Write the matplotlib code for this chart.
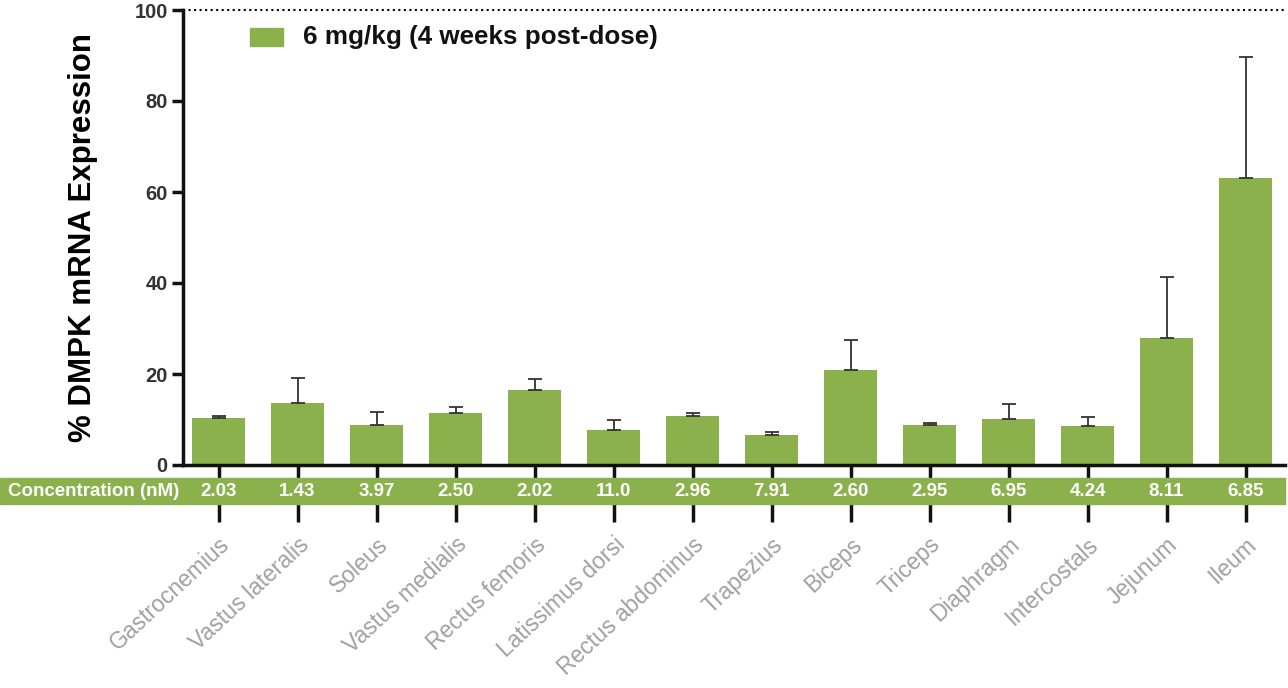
import numpy as np
import matplotlib.pyplot as plt
from matplotlib.patches import Rectangle
import matplotlib.transforms as mtransforms

plt.rcParams['font.family'] = ['Liberation Sans', 'DejaVu Sans']

# Data #
tissues = ['Gastrocnemius', 'Vastus lateralis', 'Soleus', 'Vastus medialis',
           'Rectus femoris', 'Latissimus dorsi', 'Rectus abdominus', 'Trapezius',
           'Biceps', 'Triceps', 'Diaphragm', 'Intercostals', 'Jejunum', 'Ileum']
expression = [10.3, 13.6, 8.8, 11.4, 16.5, 7.7, 10.8, 6.6, 20.9, 8.8, 10.1, 8.6, 27.9, 63.1]
err_upper = [0.5, 5.5, 2.8, 1.3, 2.4, 2.2, 0.6, 0.6, 6.6, 0.4, 3.3, 1.9, 13.4, 26.6]
concentration = ['2.03', '1.43', '3.97', '2.50', '2.02', '11.0', '2.96', '7.91',
                 '2.60', '2.95', '6.95', '4.24', '8.11', '6.85']
yticks = [0, 20, 40, 60, 80, 100]

green = '#8AB14B'

fig = plt.figure(figsize=(12.88, 6.88), dpi=100)
ax = fig.add_axes([183 / 1288, 223 / 688, 1102 / 1288, 455 / 688])

x = np.arange(len(tissues))
ax.bar(x, expression, width=0.66, color=green, zorder=2)
ax.errorbar(x, expression, yerr=[np.zeros(len(x)), err_upper], fmt='none',
            ecolor='#333333', elinewidth=1.3, capsize=5, capthick=1.3, zorder=3)

ax.set_xlim(-0.45, 13.5)
ax.set_ylim(0, 100)
ax.axhline(100, ls=':', color='k', lw=1.5, clip_on=False)

for s in ['top', 'right']:
    ax.spines[s].set_visible(False)
for s in ['left', 'bottom']:
    ax.spines[s].set_linewidth(2.5)
    ax.spines[s].set_color('#111111')

ax.set_yticks(yticks)
ax.set_yticklabels([str(v) for v in yticks], fontsize=14.5, fontweight='bold', color='#333333')
ax.tick_params(axis='y', length=8, width=2.5, color='#111111', pad=3)
ax.set_xticks(x)
ax.set_xticklabels(tissues, rotation=43, ha='right', rotation_mode='anchor',
                   fontsize=16.5, color='#a0a0a0')
ax.tick_params(axis='x', length=41, width=2.5, color='#111111', pad=8)

ax.set_ylabel('% DMPK mRNA Expression', fontsize=22.5, fontweight='bold')
ax.yaxis.set_label_coords(-0.077, 0.5)

# Legend #
fig.patches.append(Rectangle((250 / 1288, (688 - 46) / 688), 33 / 1288, 18 / 688,
                             transform=fig.transFigure, color=green, zorder=5))
fig.text(303 / 1288, (688 - 37) / 688, '6 mg/kg (4 weeks post-dose)', fontsize=18.7,
         fontweight='bold', va='center', ha='left', color='#111111')

# Concentration band #
fig.patches.append(Rectangle((0, (688 - 504) / 688), 1285 / 1288, 26 / 688,
                             transform=fig.transFigure, color=green, zorder=5))
band_y = (688 - 491) / 688
fig.text(8 / 1288, band_y, 'Concentration (nM)', fontsize=13.5, fontweight='bold',
         color='white', va='center', ha='left', zorder=6)
trans = mtransforms.blended_transform_factory(ax.transData, fig.transFigure)
for xi, c in zip(x, concentration):
    fig.text(xi, band_y, c, transform=trans, fontsize=13.5, fontweight='bold',
             color='white', va='center', ha='center', zorder=6)

fig.savefig('out.png', dpi=100)
